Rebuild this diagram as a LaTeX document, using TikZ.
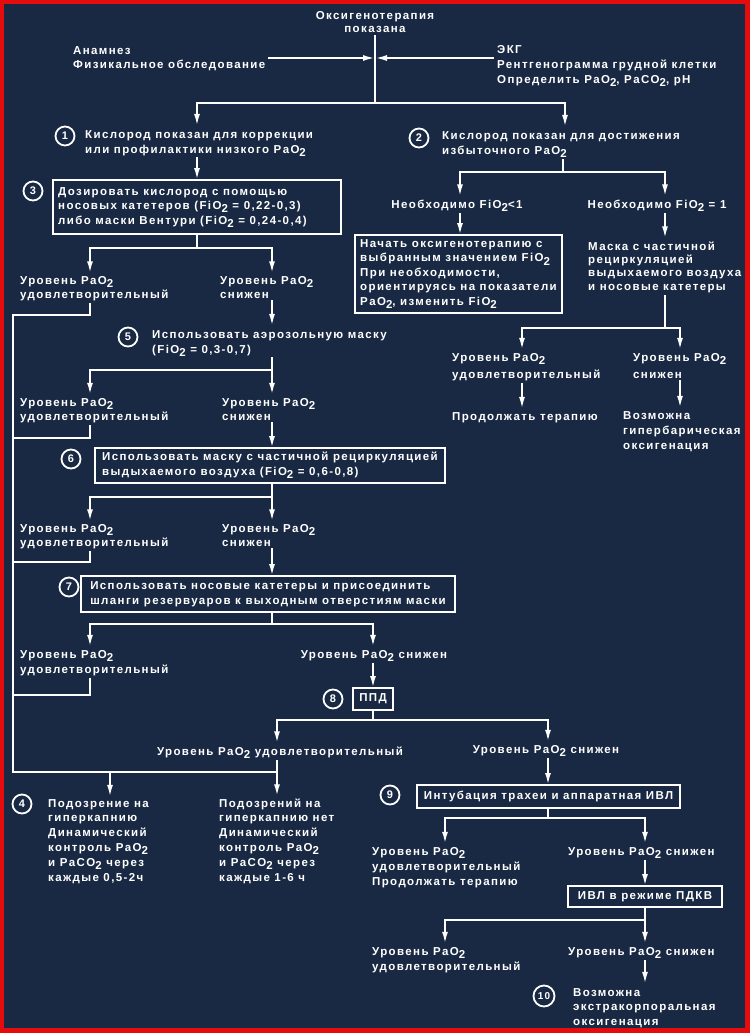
\documentclass[tikz,border=0pt]{standalone}
\usepackage{fontspec}
\setmainfont{Liberation Sans}[LetterSpace=12]
\usetikzlibrary{arrows.meta}
\definecolor{bgc}{RGB}{25,41,67}
\definecolor{framec}{RGB}{228,12,12}
\newcommand\lowii{\raisebox{-0.28em}{2}}
\begin{document}
\begin{tikzpicture}[x=1pt,y=-1pt,
  T/.style={font=\bfseries\fontsize{11.5}{#1}\selectfont},
  T/.default=14.5,
  txt/.style={text=white, align=left, inner sep=0pt, anchor=base west, T=#1},
  txt/.default=14.5,
  ctxt/.style={text=white, align=center, inner sep=0pt, anchor=base, T=#1},
  ctxt/.default=14.5,
  bx/.style={draw=white, text=white, line width=2pt, inner sep=0pt, outer sep=0pt, anchor=north west, align=left, T},
  ln/.style={draw=white, line width=2pt, line cap=rect},
  arr/.style={ln, -{Latex[length=12pt,width=6pt]}},
  sfrom/.style={shorten <=#1},
  sfrom/.default=2pt,
  sto/.style={shorten >=#1},
  sto/.default=3pt,
  num/.style={circle, draw=white, text=white, line width=1.8pt, minimum size=19pt, inner sep=0pt, font=\bfseries\fontsize{11}{11}\selectfont}
]
\useasboundingbox (0,0) rectangle (750,1033);
\fill[framec] (0,0) rectangle (750,1033);
\fill[bgc] (4,4) rectangle (745,1028);

% (multi-line text nodes are placed by the baseline of their LAST line)
% ---------- top ----------
\node[ctxt=13] (t0) at (375,33) {Оксигенотерапия\\показана};
\node[txt=14] (anam) at (73,69) {Анамнез\\Физикальное обследование};
\node[txt=15] (ekg) at (497,83) {ЭКГ\\Рентгенограмма грудной клетки\\Определить PaO\lowii, PaCO\lowii, pH};
\coordinate (v0) at (375,58);
\coordinate (s1) at (375,103);
\coordinate (s1l) at (197,103);
\coordinate (s1r) at (565,103);
\draw[ln, sfrom=3pt] (t0.south) -- (s1);
\draw[arr, sfrom=4pt] (anam.east |- v0) -- (v0);
\draw[arr, sfrom=4pt] (ekg.west |- v0) -- (v0);

\node[num] (c1) at (65,136) {1};
\node[txt=15] (n1) at (85,153) {Кислород показан для коррекции\\или профилактики низкого PaO\lowii};
\node[num] (c2) at (419,138) {2};
\node[txt=15.5] (n2) at (442,154.5) {Кислород показан для достижения\\избыточного PaO\lowii};
\draw[arr, sto=4pt] (s1) -| (s1l |- n1.north);
\draw[arr, sto=4pt] (s1) -| (s1r |- n2.north);

% ---------- left column ----------
\node[num] (c3) at (33,191) {3};
\node[bx, minimum width=288pt, minimum height=54pt] (b3) at (53,180) {};
\node[txt=14.5] (b3t) at (58,224) {Дозировать кислород с помощью\\носовых катетеров (FiO\lowii{} = 0,22-0,3)\\либо маски Вентури (FiO\lowii{} = 0,24-0,4)};
\draw[arr, sfrom] (n1.south -| s1l) -- (s1l |- b3.north);

\coordinate (s3) at (197,248);
\coordinate (s3l) at (90,248);
\coordinate (s3r) at (272,248);
\node[txt=13.5] (l1s) at (20,298) {Уровень PaO\lowii\\удовлетворительный};
\node[txt=13.5] (l1l) at (220,298) {Уровень PaO\lowii\\снижен};
\draw[ln] (b3.south) -- (s3);
\draw[arr, sto] (s3) -| (s3l |- l1s.north);
\draw[arr, sto] (s3) -| (s3r |- l1l.north);

\coordinate (fb1) at (13,315);
\coordinate (sp) at (13,772);
\draw[ln, sfrom=3pt] (l1s.south -| s3l) |- (fb1);
\draw[ln] (fb1) -- (sp);

\node[num] (c5) at (128,337) {5};
\node[txt=15] (n5) at (152,353) {Использовать аэрозольную маску\\(FiO\lowii{} = 0,3-0,7)};
\draw[arr, sfrom=3pt, sto=4pt] (l1l.south -| s3r) -- (s3r |- n5.north);

\coordinate (s5) at (272,370);
\coordinate (s5l) at (90,370);
\node[txt=14] (l2s) at (20,420) {Уровень PaO\lowii\\удовлетворительный};
\node[txt=14] (l2l) at (222,420) {Уровень PaO\lowii\\снижен};
\draw[arr, sfrom, sto] (n5.south -| s5) -- (s5 |- l2l.north);
\draw[arr, sto] (s5) -| (s5l |- l2s.north);
\draw[ln, sfrom=3pt] (l2s.south -| s5l) |- (fb1 |- 0,438);

\node[num] (c6) at (71,459) {6};
\node[bx, minimum width=350pt, minimum height=35pt] (b6) at (95,448)
  {Использовать маску с частичной рециркуляцией\\выдыхаемого воздуха (FiO\lowii{} = 0,6-0,8)};
\draw[arr, sfrom=3pt] (l2l.south -| s5) -- (s5 |- b6.north);

\coordinate (s6) at (272,497);
\coordinate (s6l) at (90,497);
\node[txt=13.5] (l3s) at (20,546) {Уровень PaO\lowii\\удовлетворительный};
\node[txt=13.5] (l3l) at (222,546) {Уровень PaO\lowii\\снижен};
\draw[arr, sto] (s6 |- b6.south) -- (s6 |- l3l.north);
\draw[arr, sto] (s6) -| (s6l |- l3s.north);
\draw[ln, sfrom=3pt] (l3s.south -| s6l) |- (fb1 |- 0,562);

\node[num] (c7) at (69,587) {7};
\node[bx, minimum width=374pt, minimum height=36pt] (b7) at (81,576)
  {Использовать носовые катетеры и присоединить\\шланги резервуаров к выходным отверстиям маски};
\draw[arr, sfrom=3pt] (l3l.south -| s6) -- (s6 |- b7.north);

\coordinate (s7) at (272,624);
\coordinate (s7l) at (90,624);
\coordinate (s7r) at (373,624);
\node[txt=15] (l4s) at (20,673) {Уровень PaO\lowii\\удовлетворительный};
\node[ctxt] (l4l) at (374,658) {Уровень PaO\lowii{} снижен};
\draw[ln] (s7 |- b7.south) -- (s7);
\draw[arr, sto] (s7) -| (s7l |- l4s.north);
\draw[arr, sto] (s7) -| (s7r |- l4l.north);
\draw[ln, sfrom=3pt] (l4s.south -| s7l) |- (fb1 |- 0,695);

\node[num] (c8) at (333,699) {8};
\node[bx, align=center, minimum width=40pt, minimum height=22pt] (b8) at (353,688) {ППД};
\draw[arr, sfrom=3pt] (l4l.south -| s7r) -- (s7r |- b8.north);

\coordinate (s8) at (373,720);
\coordinate (s8l) at (277,720);
\coordinate (s8r) at (548,720);
\node[ctxt] (ms) at (280,755) {Уровень PaO\lowii{} удовлетворительный};
\node[ctxt] (ml) at (546,753) {Уровень PaO\lowii{} снижен};
\draw[ln] (b8.south) -- (s8);
\draw[arr, sto] (s8) -| (s8l |- ms.north);
\draw[arr, sto] (s8) -| (s8r |- ml.north);

\coordinate (mj) at (277,772);
\coordinate (mj4) at (110,772);
\node[num] (c4) at (22,804) {4};
\node[txt=14.8] (n4) at (48,881) {Подозрение на\\гиперкапнию\\Динамический\\контроль PaO\lowii\\и PaCO\lowii{} через\\каждые 0,5-2ч};
\node[txt=14.8] (n4b) at (219,881) {Подозрений на\\гиперкапнию нет\\Динамический\\контроль PaO\lowii\\и PaCO\lowii{} через\\каждые 1-6 ч};
\draw[ln, sfrom=3pt] (ms.south -| mj) -- (mj);
\draw[ln] (sp) -- (mj);
\draw[arr, sto=2pt] (mj4) -- (mj4 |- n4.north);
\draw[arr, sto=2pt] (mj) -- (mj |- n4b.north);

% ---------- lower right ----------
\node[num] (c9) at (390,795) {9};
\node[bx, align=center, minimum width=263pt, minimum height=23pt] (b9) at (417,785) {Интубация трахеи и аппаратная ИВЛ};
\draw[arr, sfrom=3pt] (ml.south -| s8r) -- (s8r |- b9.north);

\coordinate (s9) at (548,818);
\coordinate (s9l) at (445,818);
\coordinate (s9r) at (645,818);
\node[txt=15] (r9s) at (372,885) {Уровень PaO\lowii\\удовлетворительный\\Продолжать терапию};
\node[txt] (r9l) at (568,855) {Уровень PaO\lowii{} снижен};
\draw[ln] (s9 |- b9.south) -- (s9);
\draw[arr, sto] (s9) -| (s9l |- r9s.north);
\draw[arr, sto] (s9) -| (s9r |- r9l.north);

\node[bx, align=center, minimum width=154pt, minimum height=21pt] (b10) at (568,886) {ИВЛ в режиме ПДКВ};
\draw[arr, sfrom=3pt] (r9l.south -| s9r) -- (s9r |- b10.north);

\coordinate (s10) at (645,920);
\coordinate (s10l) at (445,920);
\node[txt=15] (r10s) at (372,970) {Уровень PaO\lowii\\удовлетворительный};
\node[txt] (r10l) at (568,955) {Уровень PaO\lowii{} снижен};
\draw[arr, sto] (s10 |- b10.south) -- (s10 |- r10l.north);
\draw[arr, sto] (s10) -| (s10l |- r10s.north);

\node[num, minimum size=21pt, font=\bfseries\fontsize{10}{10}\selectfont] (c10) at (544,996) {10};
\node[txt] (n10) at (573,1025) {Возможна\\экстракорпоральная\\оксигенация};
\draw[arr, sfrom=3pt, sto=4pt] (r10l.south -| s10) -- (s10 |- n10.north);

% ---------- upper right ----------
\coordinate (s2) at (563,172);
\coordinate (s2l) at (460,172);
\coordinate (s2r) at (665,172);
\node[ctxt] (nf1) at (457,208) {Необходимо FiO\lowii<1};
\node[ctxt] (nf2) at (657,208) {Необходимо FiO\lowii{} = 1};
\draw[ln, sfrom] (n2.south -| s2) -- (s2);
\draw[arr, sto] (s2) -| (s2l |- nf1.north);
\draw[arr, sto] (s2) -| (s2r |- nf2.north);

\node[bx, minimum width=207pt, minimum height=78pt] (bf) at (355,235)
  {Начать оксигенотерапию с\\выбранным значением FiO\lowii\\При необходимости,\\ориентируясь на показатели\\PaO\lowii, изменить FiO\lowii};
\draw[arr, sfrom=3pt] (nf1.south -| s2l) -- (s2l |- bf.north);

\node[txt=13.3] (mask) at (588,290) {Маска с частичной\\рециркуляцией\\выдыхаемого воздуха\\и носовые катетеры};
\draw[arr, sfrom=3pt, sto] (nf2.south -| s2r) -- (s2r |- mask.north);

\coordinate (sm) at (665,328);
\coordinate (sml) at (522,328);
\coordinate (smr) at (680,328);
\node[txt=17] (rls) at (452,378) {Уровень PaO\lowii\\удовлетворительный};
\node[txt=17] (rll) at (633,378) {Уровень PaO\lowii\\снижен};
\draw[ln, sfrom=3pt] (mask.south -| sm) -- (sm);
\draw[arr, sto] (sm) -| (sml |- rls.north);
\draw[arr, sto] (sm) -| (smr |- rll.north);

\node[txt] (prod) at (452,420) {Продолжать терапию};
\node[txt=15] (hyp) at (623,449) {Возможна\\гипербарическая\\оксигенация};
\draw[arr, sfrom=3pt, sto] (rls.south -| sml) -- (sml |- prod.north);
\draw[arr, sfrom=3pt, sto] (rll.south -| smr) -- (smr |- hyp.north);
\end{tikzpicture}
\end{document}
